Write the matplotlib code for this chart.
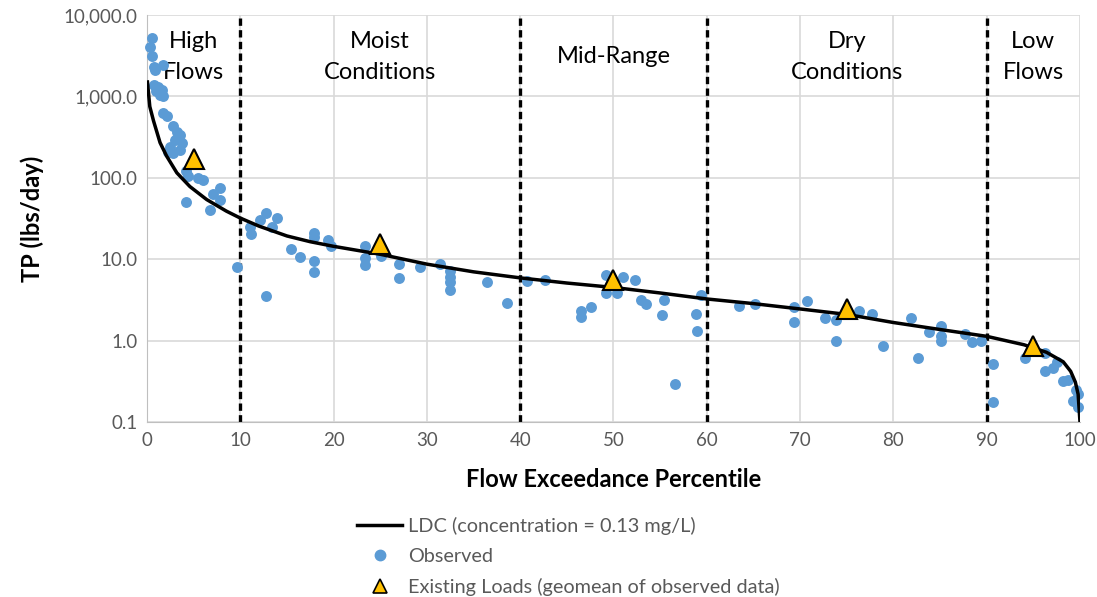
import matplotlib
matplotlib.use("Agg")
import matplotlib.pyplot as plt
from matplotlib.ticker import FixedLocator, FuncFormatter
from matplotlib.lines import Line2D
import matplotlib.transforms as mtransforms

plt.rcParams['font.family'] = ['Lato', 'DejaVu Sans']

# load duration curve (TP at 0.13 mg/L)
ldc_pct = [0.05, 0.3, 0.7, 1.4, 2.1, 3.2, 4.6, 6.4, 8.5, 10, 12, 15, 17.5, 20, 25, 30, 35,
           40, 45, 50, 55, 60, 65, 70, 75, 80, 85, 90, 94, 96.4, 98.2, 99.0, 99.5, 99.8, 100]
ldc_load = [1500, 750, 500, 270, 185, 115, 78, 54, 39, 32, 25.5, 19.3, 16.4, 14.4, 11.5, 8.7, 7.0,
            5.9, 5.1, 4.5, 3.85, 3.25, 2.85, 2.45, 2.1, 1.67, 1.37, 1.13, 0.89, 0.72, 0.55, 0.42, 0.31, 0.22, 0.1]

# observed samples
obs_pct = [0.5, 0.3, 0.5, 0.7, 1.7, 0.9, 0.7, 1.2, 1.6, 1.4, 1.7, 1.0,
           1.7, 2.1, 2.8, 3.2, 3.5, 3.0, 3.7, 2.5, 2.3, 2.8, 3.5,
           4.2, 4.4, 6.0, 5.5, 7.8, 7.1, 7.8, 4.2, 6.8,
           9.6, 12.8, 12.1, 13.9, 13.4, 11.0, 11.2, 12.75, 15.4, 16.4, 17.9, 17.9, 17.9, 17.9,
           19.4, 19.7, 23.4, 23.4, 23.4, 25.1, 27.0, 27.0, 29.3, 31.4, 32.5, 32.5, 32.5, 32.5,
           36.4, 38.6,
           40.7, 42.7, 46.5, 46.5, 47.6, 49.2, 49.2, 50.4, 51.0, 52.3, 52.9, 53.5, 55.4, 55.2,
           56.6, 58.8, 58.9, 59.4,
           63.5, 65.2, 69.3, 69.3, 70.7, 72.7, 73.8, 73.8, 76.3, 77.7, 78.9, 81.9, 82.6, 83.8,
           85.1, 85.1, 85.1, 87.7, 88.4, 89.4,
           90.7, 90.7, 94.1, 96.2, 96.2, 97.1, 97.5, 98.2, 98.7, 99.6, 99.3, 99.8, 99.8]
obs_load = [5200, 4000, 3100, 2300, 2400, 2100, 1380, 1320, 1200, 1050, 1000, 1150,
            620, 570, 430, 370, 340, 295, 270, 240, 210, 200, 220,
            120, 105, 95, 100, 75, 64, 54, 51, 40,
            8.0, 37, 30, 32, 25, 25, 20.6, 3.5, 13.5, 10.6, 21, 18.7, 9.4, 6.9,
            17, 14.5, 14.7, 10.3, 8.5, 10.8, 8.8, 5.9, 8.1, 8.7, 7.2, 6.1, 5.3, 4.2,
            5.2, 2.9,
            5.4, 5.5, 2.3, 1.95, 2.6, 6.4, 3.85, 3.8, 6.0, 5.6, 3.2, 2.85, 3.2, 2.05,
            0.29, 2.1, 1.3, 3.6,
            2.7, 2.8, 2.6, 1.7, 3.1, 1.9, 1.8, 1.0, 2.3, 2.1, 0.85, 1.9, 0.62, 1.27,
            1.5, 1.13, 0.98, 1.2, 0.96, 1.0,
            0.52, 0.175, 0.62, 0.70, 0.42, 0.46, 0.55, 0.32, 0.33, 0.25, 0.18, 0.155, 0.22]

# geomean of observed data per flow zone
exist_pct = [5, 25, 50, 75, 95]
exist_load = [170, 15.2, 5.6, 2.43, 0.86]

zone_breaks = [10, 40, 60, 90]
zone_mid = [5, 25, 50, 75, 95]
zone_names = ["High\nFlows", "Moist\nConditions", "Mid-Range", "Dry\nConditions", "Low\nFlows"]

fig = plt.figure(figsize=(10.97, 5.97), dpi=100)
ax = fig.add_axes([0.134, 0.293, 0.8505, 0.682])

ax.set_yscale('log')
ax.set_xlim(0, 100)
ax.set_ylim(0.1, 10000)
ax.xaxis.set_major_locator(FixedLocator(range(0, 101, 10)))
ax.yaxis.set_major_locator(FixedLocator([0.1, 1, 10, 100, 1000, 10000]))
ax.yaxis.set_minor_locator(FixedLocator([]))
ax.yaxis.set_major_formatter(FuncFormatter(lambda v, p: "{:,.1f}".format(v)))
ax.grid(True, color='#D9D9D9', lw=1.2)
ax.set_axisbelow(True)
ax.tick_params(length=0, labelsize=13.5, colors='#595959', pad=7)
for s in ['top', 'right']:
    ax.spines[s].set_visible(False)
for s in ['left', 'bottom']:
    ax.spines[s].set_color('#BFBFBF')

for b in zone_breaks:
    ax.axvline(b, color='black', lw=2.4, ls=(0, (2.2, 1.3)), zorder=2)

trans = mtransforms.blended_transform_factory(ax.transData, ax.transAxes)
for xm, name in zip(zone_mid, zone_names):
    ax.text(xm, 0.897, name, transform=trans, ha='center', va='center',
            fontsize=17, linespacing=1.6)

ax.scatter(obs_pct, obs_load, s=62, color='#5B9BD5', zorder=3, clip_on=False, lw=0)
ax.plot(ldc_pct, ldc_load, color='black', lw=2.5, zorder=4)
ax.plot(exist_pct, exist_load, ls='none', marker='^', ms=15, mfc='#FFC000',
        mec='black', mew=1.5, zorder=5)

ax.set_xlabel("Flow Exceedance Percentile", fontsize=17, fontweight='bold', labelpad=14)
ax.set_ylabel("TP (lbs/day)", fontsize=17, fontweight='bold', labelpad=14)

handles = [Line2D([], [], color='black', lw=2.5),
           Line2D([], [], ls='none', marker='o', ms=7.5, mfc='#5B9BD5', mec='#5B9BD5'),
           Line2D([], [], ls='none', marker='^', ms=9.5, mfc='#FFC000', mec='black', mew=1.2)]
labels = ["LDC (concentration = 0.13 mg/L)", "Observed",
          "Existing Loads (geomean of observed data)"]
leg = fig.legend(handles, labels, loc='upper left', bbox_to_anchor=(0.318, 0.148),
                 frameon=False, fontsize=14.3, handlelength=2.3, handletextpad=0.3,
                 labelspacing=0.65, borderaxespad=0)
for t in leg.get_texts():
    t.set_color('#595959')

fig.savefig('out.png', dpi=100)
